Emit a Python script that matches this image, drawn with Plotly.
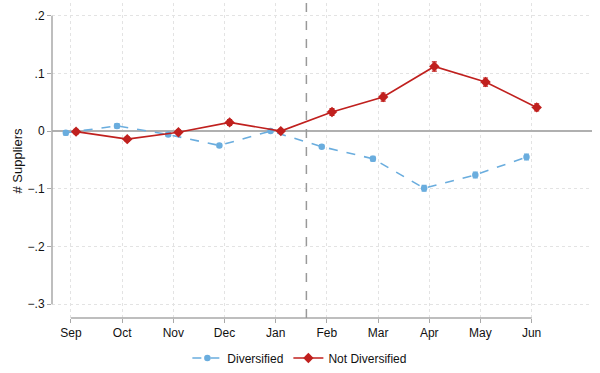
import plotly.graph_objects as go

months = ["Sep", "Oct", "Nov", "Dec", "Jan", "Feb", "Mar", "Apr", "May", "Jun"]
month_idx = list(range(len(months)))

div_vals = [-0.003, 0.009, -0.006, -0.025, 0.000, -0.027, -0.048, -0.099, -0.076, -0.045]
div_err = [0.004, 0.004, 0.003, 0.003, 0.002, 0.003, 0.004, 0.005, 0.005, 0.005]
nd_vals = [-0.001, -0.014, -0.002, 0.015, 0.000, 0.033, 0.059, 0.112, 0.085, 0.041]
nd_err = [0.004, 0.004, 0.004, 0.005, 0.002, 0.006, 0.007, 0.008, 0.007, 0.006]

y_ticks = [0.2, 0.1, 0.0, -0.1, -0.2, -0.3]
y_labels = [".2", ".1", "0", "\u2212.1", "\u2212.2", "\u2212.3"]
event_x = 4.6
offset = 0.1

blue = "#6AADDE"
red = "#C0201E"
axis_gray = "#A8A8A8"

fig = go.Figure()
fig.add_trace(go.Scatter(
    x=[m - offset for m in month_idx], y=div_vals, name="Diversified",
    mode="lines+markers",
    line=dict(color=blue, width=1.6, dash="dash"),
    marker=dict(symbol="circle", size=6.5, color=blue),
    error_y=dict(type="data", array=div_err, color=blue, thickness=1.2, width=2.5),
))
fig.add_trace(go.Scatter(
    x=[m + offset for m in month_idx], y=nd_vals, name="Not Diversified",
    mode="lines+markers",
    line=dict(color=red, width=1.6),
    marker=dict(symbol="diamond", size=8, color=red),
    error_y=dict(type="data", array=nd_err, color=red, thickness=1.2, width=2.5),
))

# axis lines (Stata style, spanning tick range only)
fig.add_shape(type="line", xref="paper", yref="y", x0=0, x1=0, y0=min(y_ticks), y1=max(y_ticks),
              line=dict(color=axis_gray, width=1.5))
fig.add_shape(type="line", xref="x", yref="paper", x0=month_idx[0], x1=month_idx[-1], y0=0, y1=0,
              line=dict(color=axis_gray, width=1.5))
# event line
fig.add_shape(type="line", xref="x", yref="paper", x0=event_x, x1=event_x, y0=0, y1=1,
              line=dict(color="#999999", width=1.5, dash="dash"))

font_family = "Liberation Sans, Arial, sans-serif"

fig.add_annotation(text="# Suppliers", xref="paper", yref="paper", x=-0.063, y=0.5,
                   textangle=-90, showarrow=False, xanchor="center", yanchor="middle",
                   font=dict(size=13, color="#111111"))

fig.update_layout(
    width=600, height=373,
    margin=dict(l=52, r=8, t=3, b=55, autoexpand=False),
    paper_bgcolor="white", plot_bgcolor="white",
    font=dict(family=font_family, size=12, color="#111111"),
    showlegend=True,
    legend=dict(orientation="h", xref="paper", yref="paper",
                x=0.459, xanchor="center", y=-0.127, yanchor="middle",
                font=dict(size=12), itemwidth=30, tracegroupgap=0),
    xaxis=dict(
        range=[-0.37, 10.18], tickvals=month_idx, ticktext=months,
        showgrid=True, gridcolor="#E3E3E3", griddash="dot", gridwidth=1,
        showline=False, zeroline=False, automargin=False,
        ticks="outside", ticklen=4, tickcolor=axis_gray, tickwidth=1.2,
        tickfont=dict(size=12),
    ),
    yaxis=dict(
        range=[-0.324, 0.222], tickvals=y_ticks, ticktext=y_labels,
        showgrid=True, gridcolor="#E3E3E3", griddash="dot", gridwidth=1,
        showline=False, automargin=False,
        zeroline=True, zerolinecolor="#B0B0B0", zerolinewidth=2,
        ticks="outside", ticklen=4, tickcolor=axis_gray, tickwidth=1.2,
        tickfont=dict(size=12),
    ),
)

fig.write_html("out.html", config={"displayModeBar": False},
               post_script="document.body.style.margin='0';")
